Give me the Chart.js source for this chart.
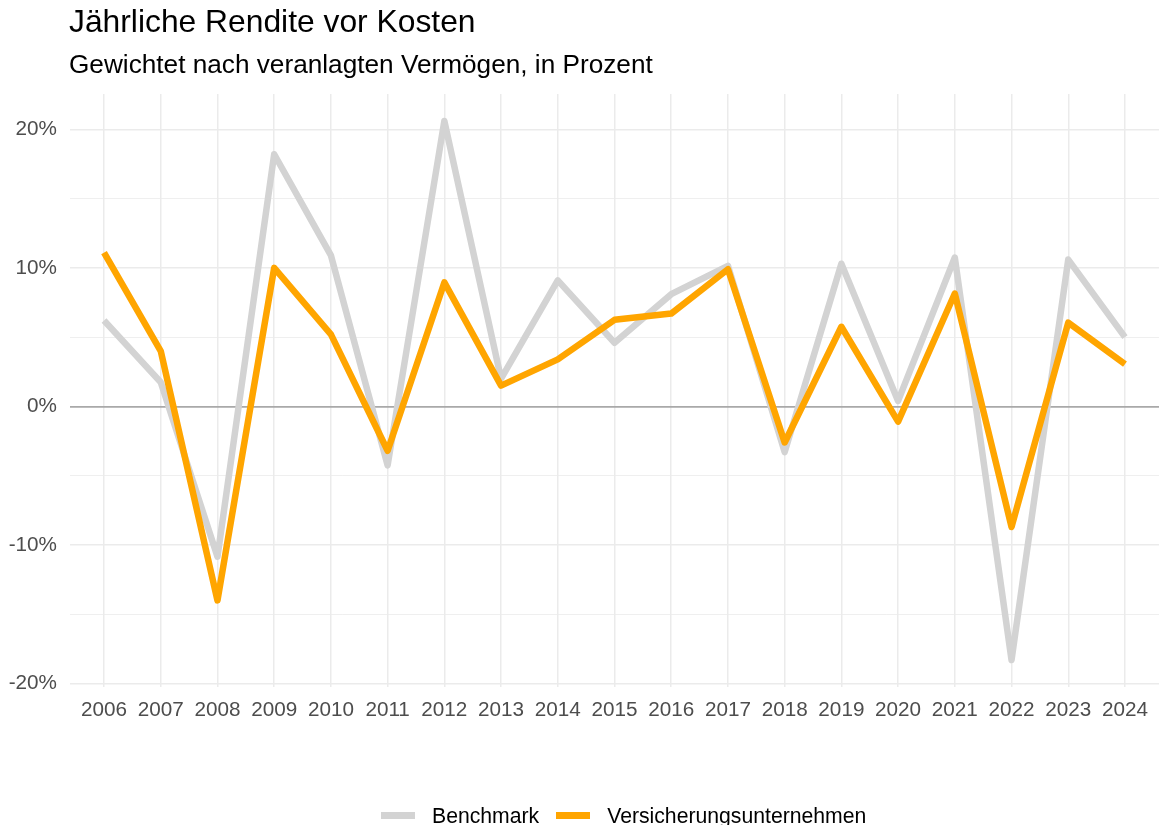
<!DOCTYPE html>
<html>
<head>
<meta charset="utf-8">
<script src="https://cdn.jsdelivr.net/npm/chart.js@4/dist/chart.umd.min.js"></script>
<style>
  html, body { margin: 0; padding: 0; background: #fff; overflow: hidden; }
  #wrap { position: relative; width: 1161px; height: 825px; font-family: "Liberation Sans", Arial, sans-serif; }
  #c { position: absolute; left: 0; top: 0; }
  .title { position: absolute; left: 69px; top: 6px; font-size: 31.8px; line-height: 1; color: #000; white-space: nowrap; }
  .subtitle { position: absolute; left: 69px; top: 51px; font-size: 26.2px; line-height: 1; color: #000; white-space: nowrap; }
  .legend { position: absolute; top: 805px; left: 381px; display: flex; align-items: center; font-size: 21.2px; line-height: 1; color: #000; white-space: nowrap; }
  .sw { display: inline-block; width: 34px; height: 7px; margin-right: 17px; }
  .item { display: flex; align-items: center; margin-right: 17px; }
</style>
</head>
<body>
<div id="wrap">
  <canvas id="c" width="1161" height="825"></canvas>
  <div class="title">Jährliche Rendite vor Kosten</div>
  <div class="subtitle">Gewichtet nach veranlagten Vermögen, in Prozent</div>
  <div class="legend" id="legend"></div>
</div>
<script>
const years = [2006, 2007, 2008, 2009, 2010, 2011, 2012, 2013, 2014, 2015, 2016, 2017, 2018, 2019, 2020, 2021, 2022, 2023, 2024];
const benchmark = [6.2, 1.75, -10.85, 18.2, 10.9, -4.25, 20.6, 2.0, 9.1, 4.6, 8.1, 10.15, -3.3, 10.3, 0.4, 10.75, -18.3, 10.6, 5.0];
const versicherung = [11.1, 4.0, -14.0, 10.0, 5.2, -3.2, 8.95, 1.5, 3.4, 6.25, 6.7, 9.9, -2.6, 5.75, -1.1, 8.15, -8.7, 6.05, 3.05];
const yTicks = [-20, -15, -10, -5, 0, 5, 10, 15, 20];
const seriesNames = ['Benchmark', 'Versicherungsunternehmen'];
const seriesColors = ['#D3D3D3', '#FFA500'];

const legendEl = document.getElementById('legend');
seriesNames.forEach((n, i) => {
  const it = document.createElement('span');
  it.className = 'item';
  it.innerHTML = '<span class="sw" style="background:' + seriesColors[i] + '"></span><span>' + n + '</span>';
  legendEl.appendChild(it);
});

const toXY = arr => arr.map((v, i) => ({ x: years[i], y: v }));

new Chart(document.getElementById('c'), {
  type: 'line',
  data: {
    datasets: [
      { label: seriesNames[1], data: toXY(versicherung), borderColor: seriesColors[1], borderWidth: 6.5, pointRadius: 0, tension: 0, borderJoinStyle: 'round', borderCapStyle: 'butt', fill: false, order: 0 },
      { label: seriesNames[0], data: toXY(benchmark), borderColor: seriesColors[0], borderWidth: 6.5, pointRadius: 0, tension: 0, borderJoinStyle: 'round', borderCapStyle: 'butt', fill: false, order: 1 }
    ]
  },
  options: {
    responsive: false,
    animation: false,
    layout: { padding: { top: 94, left: 0, right: 2, bottom: 0 } },
    plugins: { legend: { display: false }, tooltip: { enabled: false }, title: { display: false } },
    scales: {
      x: {
        type: 'linear',
        min: 2005.4,
        max: 2024.6,
        afterBuildTicks: s => { s.ticks = years.map(v => ({ value: v })); },
        afterFit: s => { s.height = 138; },
        border: { display: false },
        grid: { color: '#EBEBEB', lineWidth: 1.5, drawTicks: false },
        ticks: {
          padding: 11,
          color: '#4D4D4D',
          font: { family: '"Liberation Sans", Arial, sans-serif', size: 20.7 },
          maxRotation: 0,
          autoSkip: false,
          callback: v => String(v)
        }
      },
      y: {
        min: -20.25,
        max: 22.55,
        afterBuildTicks: s => { s.ticks = yTicks.map(v => ({ value: v })); },
        afterFit: s => { s.width = 70; },
        border: { display: false },
        grid: {
          drawTicks: false,
          color: c => (c.tick && c.tick.value === 0) ? '#A9A9A9' : '#EBEBEB',
          lineWidth: c => (c.tick && c.tick.value === 0) ? 1.8 : ((c.tick && c.tick.value % 10 === 0) ? 1.5 : 0.8)
        },
        ticks: {
          padding: 13,
          color: '#4D4D4D',
          font: { family: '"Liberation Sans", Arial, sans-serif', size: 20.7 },
          callback: v => (v % 10 === 0 ? v + '%' : '')
        }
      }
    }
  }
});
</script>
</body>
</html>
